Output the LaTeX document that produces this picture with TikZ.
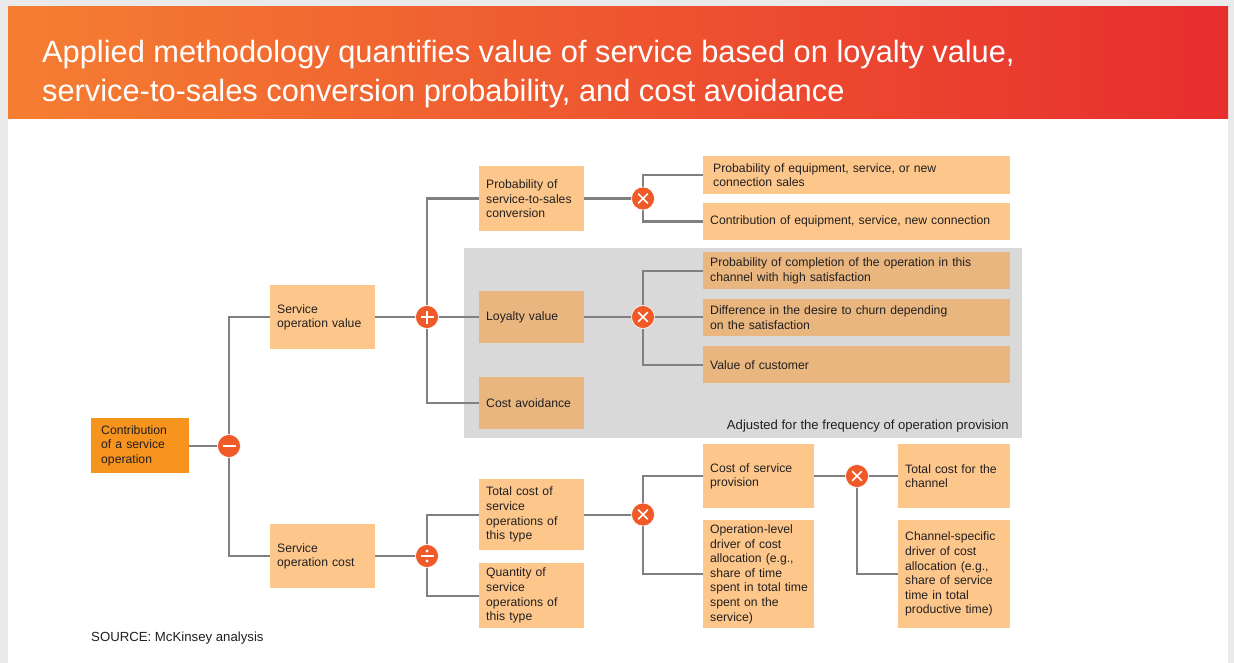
\documentclass[tikz,border=0pt]{standalone}
\usepackage{fontspec}
\setmainfont{Liberation Sans}
\usetikzlibrary{backgrounds}

\definecolor{hdrL}{RGB}{245,126,50}
\definecolor{hdrR}{RGB}{231,46,46}
\definecolor{boxlight}{RGB}{253,199,140}
\definecolor{boxdark}{RGB}{232,182,126}
\definecolor{boxroot}{RGB}{247,148,30}
\definecolor{opred}{RGB}{240,90,40}
\definecolor{panelgray}{RGB}{217,217,217}
\definecolor{wire}{RGB}{128,128,128}
\definecolor{ink}{RGB}{35,31,32}
\definecolor{framegray}{RGB}{234,234,234}

\pgfdeclarelayer{panelbg}
\pgfdeclarelayer{wires}
\pgfsetlayers{panelbg,wires,main}

\tikzset{
  box/.style={rectangle, inner sep=0pt, align=left, text=ink, anchor=north west,
    font=\fontsize{12.2}{14.6}\selectfont},
  lightbox/.style={box, fill=boxlight},
  darkbox/.style={box, fill=boxdark},
  rootbox/.style={box, fill=boxroot},
  colA/.style={minimum width=105pt, text width=91pt},
  colB/.style={minimum width=307pt, text width=287pt},
  colC/.style={minimum width=111pt, text width=97pt},
  colD/.style={minimum width=112pt, text width=98pt},
  op/.style={circle, fill=opred, draw=white, line width=0.6pt, minimum size=23pt, inner sep=0pt},
  opminus/.style={op, path picture={
    \draw[white, line width=2.6pt] ([xshift=-6.5pt]path picture bounding box.center) -- ([xshift=6.5pt]path picture bounding box.center);}},
  opplus/.style={op, path picture={
    \draw[white, line width=2.4pt] ([xshift=-6.5pt]path picture bounding box.center) -- ([xshift=6.5pt]path picture bounding box.center)
      ([yshift=-6.5pt]path picture bounding box.center) -- ([yshift=6.5pt]path picture bounding box.center);}},
  optimes/.style={op, path picture={
    \draw[white, line width=1.5pt] ([shift={(-4.8pt,-4.8pt)}]path picture bounding box.center) -- ([shift={(4.8pt,4.8pt)}]path picture bounding box.center)
      ([shift={(-4.8pt,4.8pt)}]path picture bounding box.center) -- ([shift={(4.8pt,-4.8pt)}]path picture bounding box.center);}},
  opdiv/.style={op, path picture={
    \draw[white, line width=1.8pt] ([xshift=-6.5pt]path picture bounding box.center) -- ([xshift=6.5pt]path picture bounding box.center);
    \fill[white] ([yshift=5pt]path picture bounding box.center) circle (1.6pt)
      ([yshift=-5pt]path picture bounding box.center) circle (1.6pt);}},
  conn/.style={draw=wire, line width=2.4pt},
}

\begin{document}
\begin{tikzpicture}[x=1pt, y=-1pt]
  \useasboundingbox (0,0) rectangle (1234,663);

  % page, slide and header band
  \begin{pgfonlayer}{panelbg}
    \fill[framegray] (0,0) rectangle (1234,663);
    \fill[white] (8,7) rectangle (1228,663);
    \shade[left color=hdrL, right color=hdrR] (8,7) rectangle (1228,119);
    \node[fill=panelgray, minimum width=558pt, minimum height=190pt, inner sep=0pt, anchor=north west] (panel) at (464,248) {};
  \end{pgfonlayer}

  \node[anchor=base west, text=white, inner sep=0pt, font=\fontsize{30.8}{36}\selectfont] (title1) at (42,63)
    {Applied methodology quantifies value of service based on loyalty value,};
  \node[anchor=base west, text=white, inner sep=0pt, font=\fontsize{30.8}{36}\selectfont] (title2) at (42,102)
    {service-to-sales conversion probability, and cost avoidance};

  % level 0 and 1
  \node[rootbox, minimum width=98pt, text width=78pt, minimum height=55pt] (root) at (91,418)
    {Contribution\\of a service\\operation};
  \node[lightbox, colA, minimum height=64pt] (sov) at (270,285) {Service\\operation value};
  \node[lightbox, colA, minimum height=64pt] (soc) at (270,524) {Service\\operation cost};

  % level 2
  \node[lightbox, colA, minimum height=65pt] (prob) at (479,166) {Probability of\\service-to-sales\\conversion};
  \node[darkbox, colA, minimum height=52pt] (loy) at (479,291) {Loyalty value};
  \node[darkbox, colA, minimum height=52pt] (cav) at (479,377) {Cost avoidance};
  \node[lightbox, colA, minimum height=71pt] (tcs) at (479,479) {Total cost of\\service\\operations of\\this type};
  \node[lightbox, colA, minimum height=65pt] (qty) at (479,563) {Quantity of\\service\\operations of\\this type};

  % level 3
  \node[lightbox, colB, minimum height=38pt] (pe) at (703,156) {Probability of equipment, service, or new\\connection sales};
  \node[lightbox, minimum width=307pt, text width=293pt, minimum height=37pt] (ce) at (703,203) {Contribution of equipment, service, new connection};
  \node[darkbox, colB, minimum height=37pt, text width=293pt] (pc) at (703,252) {Probability of completion of the operation in this\\channel with high satisfaction};
  \node[darkbox, colB, minimum height=37pt, text width=293pt] (dc) at (703,299) {Difference in the desire to churn depending\\on the satisfaction};
  \node[darkbox, colB, minimum height=37pt, text width=293pt] (vc) at (703,346) {Value of customer};
  \node[lightbox, colC, minimum height=64pt] (csp) at (703,444) {Cost of service\\provision};
  \node[lightbox, colC, minimum height=108pt] (old) at (703,520)
    {Operation-level\\driver of cost\\allocation (e.g.,\\share of time\\\mbox{spent in total time}\\spent on the\\service)};

  % level 4
  \node[lightbox, colD, minimum height=64pt] (tcc) at (898,444) {Total cost for the\\channel};
  \node[lightbox, colD, minimum height=108pt] (chs) at (898,520)
    {Channel-specific\\driver of cost\\allocation (e.g.,\\share of service\\time in total\\productive time)};

  % operators
  \node[opminus] (m1) at (229,446) {};
  \node[opplus]  (pl) at (427,317) {};
  \node[opdiv]   (dv) at (427,556) {};
  \node[optimes] (x1) at (643,198.5) {};
  \node[optimes] (x2) at (643,317) {};
  \node[optimes] (x3) at (643,514.5) {};
  \node[optimes] (x4) at (857,476) {};

  \node[anchor=base east, inner sep=0pt, text=ink, font=\fontsize{13.1}{15}\selectfont] (adj) at (1009,429)
    {Adjusted for the frequency of operation provision};
  \node[anchor=base west, inner sep=0pt, text=ink, font=\fontsize{13.2}{15}\selectfont] (src) at (91,641)
    {SOURCE: McKinsey analysis};

  % connectors
  \begin{pgfonlayer}{wires}
    \draw[conn] (root.east) -- (root.east -| m1.center);
    \draw[conn] (sov.west) -| (m1.center) |- (soc.west);
    \draw[conn] (sov.east) -- (sov.east -| pl.center);
    \draw[conn] (prob.west) -| (pl.center) |- (cav.west);
    \draw[conn] (pl.center) -- (pl.center -| loy.west);
    \draw[conn] (soc.east) -- (soc.east -| dv.center);
    \draw[conn] (tcs.west) -| (dv.center) |- (qty.west);
    \draw[conn] (prob.east) -- (prob.east -| x1.center);
    \draw[conn] (pe.west) -| (x1.center) |- (ce.west);
    \draw[conn] (loy.east) -- (loy.east -| x2.center);
    \draw[conn] (pc.west) -| (x2.center) |- (vc.west);
    \draw[conn] (x2.center) -- (x2.center -| dc.west);
    \draw[conn] (tcs.east) -- (tcs.east -| x3.center);
    \draw[conn] (csp.west) -| (x3.center) |- (old.west);
    \draw[conn] (csp.east) -- (tcc.west);
    \draw[conn] (x4.center) |- (chs.west);
  \end{pgfonlayer}
\end{tikzpicture}
\end{document}
